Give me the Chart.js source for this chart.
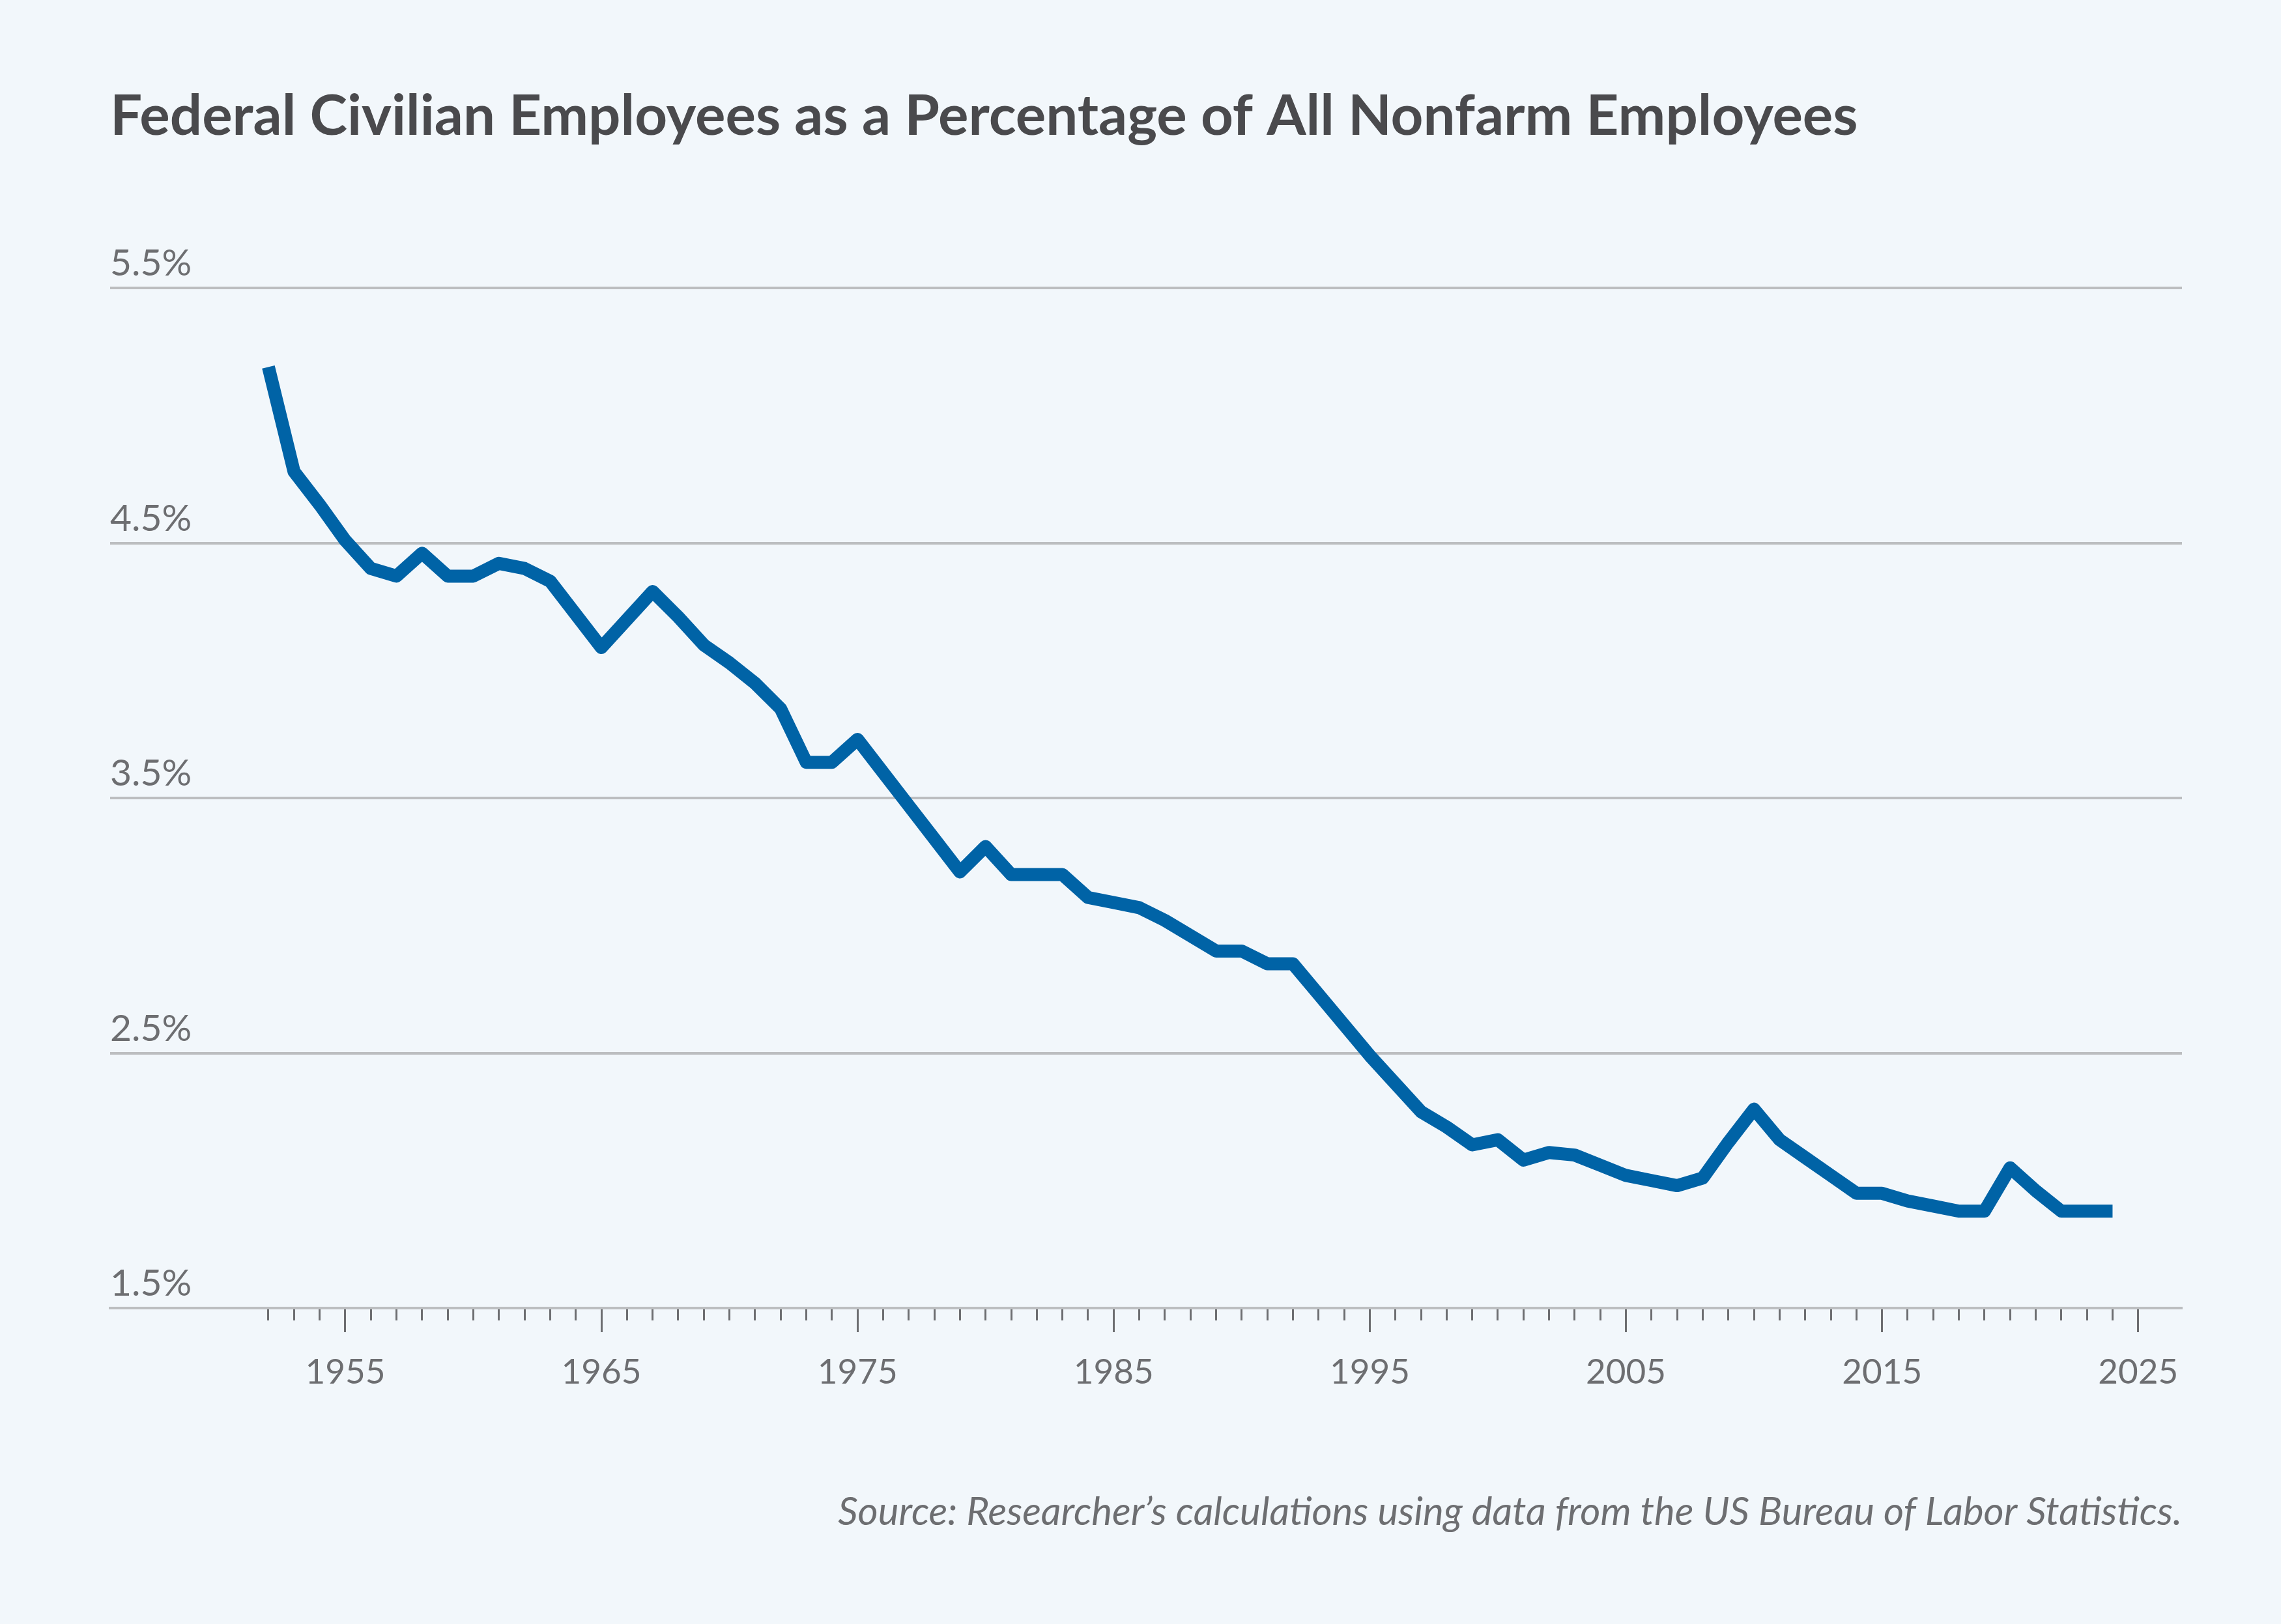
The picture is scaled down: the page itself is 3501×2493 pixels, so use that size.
<!DOCTYPE html><html><head>
<title>Federal Civilian Employees as a Percentage of All Nonfarm Employees</title>
<style>
  html, body { margin: 0; padding: 0; background: #f2f7fb; }
  canvas { display: block; }
</style>
</head>
<body>
<canvas id="chart" width="3501" height="2493"></canvas>
<script src="https://cdn.jsdelivr.net/npm/chart.js"></script>
<script>
const years = [
  1952, 1953, 1954, 1955, 1956, 1957, 1958, 1959, 1960, 1961,
  1962, 1963, 1964, 1965, 1966, 1967, 1968, 1969, 1970, 1971,
  1972, 1973, 1974, 1975, 1976, 1977, 1978, 1979, 1980, 1981,
  1982, 1983, 1984, 1985, 1986, 1987, 1988, 1989, 1990, 1991,
  1992, 1993, 1994, 1995, 1996, 1997, 1998, 1999, 2000, 2001,
  2002, 2003, 2004, 2005, 2006, 2007, 2008, 2009, 2010, 2011,
  2012, 2013, 2014, 2015, 2016, 2017, 2018, 2019, 2020, 2021,
  2022, 2023, 2024
];
// federal civilian share of nonfarm employment, percent
const shares = [
  5.19, 4.78, 4.65, 4.51, 4.40, 4.37, 4.46, 4.37, 4.37, 4.42,
  4.40, 4.35, 4.22, 4.09, 4.20, 4.31, 4.21, 4.10, 4.03, 3.95,
  3.85, 3.64, 3.64, 3.73, 3.60, 3.47, 3.34, 3.21, 3.31, 3.20,
  3.20, 3.20, 3.11, 3.09, 3.07, 3.02, 2.96, 2.90, 2.90, 2.85,
  2.85, 2.73, 2.61, 2.49, 2.38, 2.27, 2.21, 2.14, 2.16, 2.08,
  2.11, 2.10, 2.06, 2.02, 2.00, 1.98, 2.01, 2.15, 2.28, 2.16,
  2.09, 2.02, 1.95, 1.95, 1.92, 1.90, 1.88, 1.88, 2.05, 1.96,
  1.88, 1.88, 1.88
];
const yTicks = [1.5, 2.5, 3.5, 4.5, 5.5];
const xLabelYears = [1955, 1965, 1975, 1985, 1995, 2005, 2015, 2025];
const titleText = 'Federal Civilian Employees as a Percentage of All Nonfarm Employees';
const sourceText = 'Source: Researcher\u2019s calculations using data from the US Bureau of Labor Statistics.';

const gridGrey = '#bcbec0';
const textGrey = '#6d6e71';

// one tick per year, long ones on the labelled years
const yearTicks = [];
for (let y = years[0]; y <= xLabelYears[xLabelYears.length - 1]; y++) yearTicks.push(y);

Chart.defaults.font.family = "Lato, 'Noto Sans', sans-serif";
const ctx = document.getElementById('chart').getContext('2d');
const chart = new Chart(ctx, {
  type: 'line',
  data: {
    datasets: [{
      data: years.map((y, i) => ({ x: y, y: shares[i] })),
      borderColor: '#0063a6',
      borderWidth: 20,
      borderJoinStyle: 'round',
      borderCapStyle: 'butt',
      pointRadius: 0,
      tension: 0,
      fill: false
    }]
  },
  options: {
    responsive: false,
    animation: false,
    devicePixelRatio: 1,
    layout: { padding: { left: 169, right: 152, top: 0, bottom: 0 } },
    plugins: {
      legend: { display: false },
      tooltip: { enabled: false },
      title: {
        display: true,
        text: titleText,
        align: 'start',
        color: '#4a4a4d',
        font: { size: 87, weight: '700' },
        padding: { top: 127, bottom: 210.6 }
      },
      subtitle: {
        display: true,
        position: 'bottom',
        align: 'end',
        text: sourceText,
        color: textGrey,
        font: { size: 60, style: 'italic' },
        padding: { top: 117.4, bottom: 135 }
      }
    },
    scales: {
      x: {
        type: 'linear',
        min: 1945.82,
        max: 2026.71,
        afterBuildTicks: axis => { axis.ticks = yearTicks.map(v => ({ value: v })); },
        grid: {
          drawOnChartArea: false,
          drawTicks: true,
          tickLength: 37,
          tickColor: textGrey,
          tickWidth: 3,
          tickBorderDash: c => (c.tick && xLabelYears.includes(c.tick.value)) ? [] : [17, 200]
        },
        border: { display: true, color: gridGrey, width: 4 },
        ticks: {
          autoSkip: false,
          maxRotation: 0,
          padding: 30,
          color: textGrey,
          font: { size: 53 },
          callback: v => xLabelYears.includes(v) ? String(v) : ''
        }
      },
      y: {
        min: 1.5,
        max: 5.5,
        afterBuildTicks: axis => { axis.ticks = yTicks.map(v => ({ value: v })); },
        grid: { color: gridGrey, lineWidth: 4, drawTicks: false },
        border: { display: false },
        ticks: {
          mirror: true,
          padding: 0,
          labelOffset: -37,
          color: textGrey,
          font: { size: 57 },
          callback: v => v.toFixed(1) + '%'
        }
      }
    }
  }
});
</script>
</body></html>
